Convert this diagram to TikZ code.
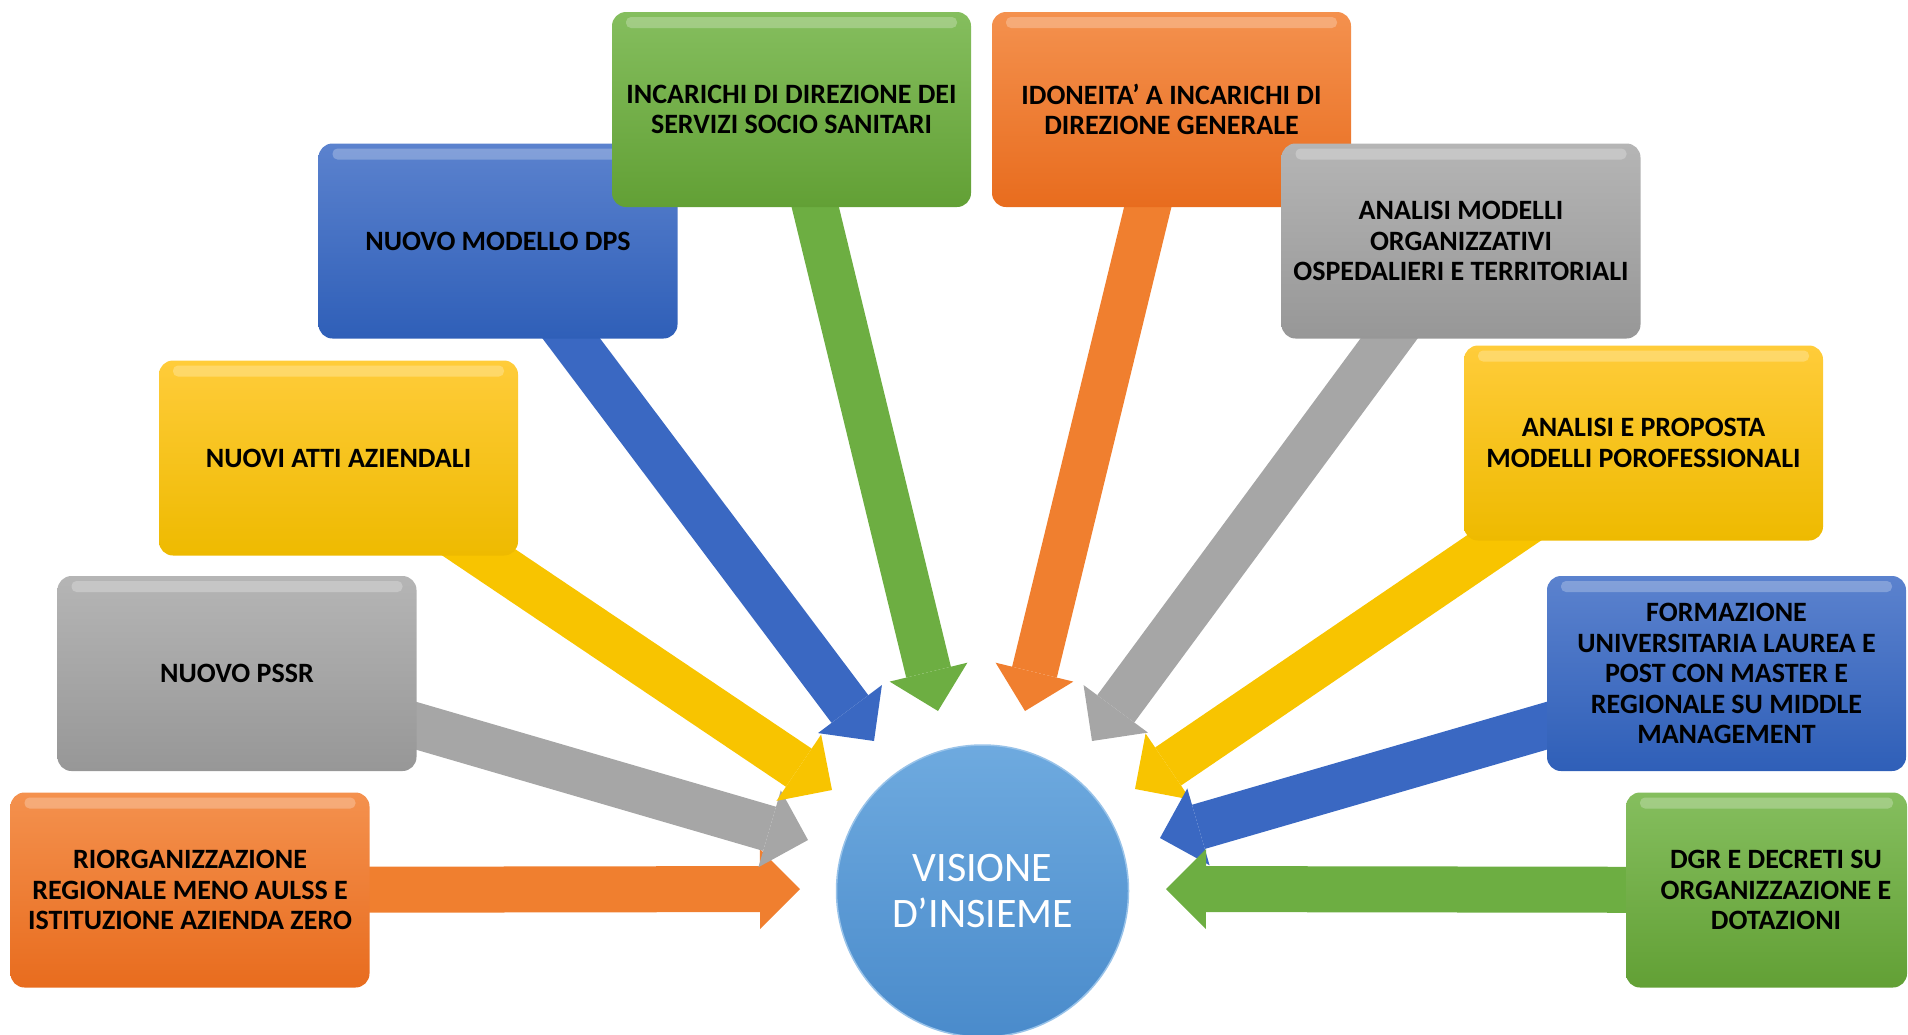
\documentclass[tikz,border=0pt]{standalone}
\usepackage{fontspec}
\setmainfont{Carlito}
\usetikzlibrary{arrows.meta,backgrounds}
\definecolor{gTop}{HTML}{85BE5E}\definecolor{gBot}{HTML}{62A035}\definecolor{gArr}{HTML}{6DAE42}
\definecolor{oTop}{HTML}{F4914E}\definecolor{oBot}{HTML}{E86C1E}\definecolor{oArr}{HTML}{F07F2F}
\definecolor{bTop}{HTML}{5B82CE}\definecolor{bBot}{HTML}{2F5FB8}\definecolor{bArr}{HTML}{3A68C2}
\definecolor{kTop}{HTML}{B5B5B5}\definecolor{kBot}{HTML}{979797}\definecolor{kArr}{HTML}{A6A6A6}
\definecolor{yTop}{HTML}{FFCC3A}\definecolor{yBot}{HTML}{EEBA00}\definecolor{yArr}{HTML}{F8C400}
\definecolor{cTop}{HTML}{6EAADF}\definecolor{cBot}{HTML}{4A8BCB}
\begin{document}
\begin{tikzpicture}[x=1pt,y=-1pt,
  boxtext/.style={inner sep=0pt, align=center, text=black,
    font=\bfseries\fontsize{28}{30.5}\selectfont},
  box/.style={boxtext, rounded corners=14pt, minimum width=359pt, minimum height=195pt,
    path picture={\fill[white,opacity=0.25,rounded corners=5pt]
      ([xshift=14pt,yshift=-5pt]path picture bounding box.north west) rectangle
      ([xshift=-14pt,yshift=-16pt]path picture bounding box.north east);}},
  gbox/.style={box, top color=gTop, bottom color=gBot},
  obox/.style={box, top color=oTop, bottom color=oBot},
  bbox/.style={box, top color=bTop, bottom color=bBot},
  kbox/.style={box, top color=kTop, bottom color=kBot},
  ybox/.style={box, top color=yTop, bottom color=yBot},
  arr/.style={line width=46pt, -{Triangle[length=40pt 0 1, width=80pt 0 1, line width=0pt 0 1]}},
]
\useasboundingbox (0,0) rectangle (1908,1034);

% boxes
\node[bbox] (dps) at (498,241) {NUOVO MODELLO DPS};
\node[gbox] (inc) at (791.5,109.5) {INCARICHI DI DIREZIONE DEI\\SERVIZI SOCIO SANITARI};
\node[obox] (ido) at (1171.5,109.5) {IDONEITA’ A INCARICHI DI\\DIREZIONE GENERALE};
\node[kbox] (ana) at (1461,241) {ANALISI MODELLI\\ORGANIZZATIVI\\OSPEDALIERI E TERRITORIALI};
\node[ybox] (atti) at (338.5,458) {NUOVI ATTI AZIENDALI};
\node[ybox] (prop) at (1643.5,443) {ANALISI E PROPOSTA\\MODELLI POROFESSIONALI};
\node[kbox] (pssr) at (237,673.5) {NUOVO PSSR};
\node[bbox] (form) at (1726.5,673.5) {FORMAZIONE\\UNIVERSITARIA LAUREA E\\POST CON MASTER E\\REGIONALE SU MIDDLE\\MANAGEMENT};
\node[obox] (rio) at (190,890) {RIORGANIZZAZIONE\\REGIONALE MENO AULSS E\\ISTITUZIONE AZIENDA ZERO};
\node[gbox, minimum width=281pt] (dgr) at (1766.5,890) {};
\node[boxtext] (dgrtext) at (1776,890) {DGR E DECRETI SU\\ORGANIZZAZIONE E\\DOTAZIONI};

% centre
\node[circle, minimum size=292pt, inner sep=0pt, top color=cTop, bottom color=cBot,
  draw=cTop!70!white, line width=1.5pt, align=center, text=white,
  font=\fontsize{42}{47}\selectfont] (vis) at (982.5,891) {VISIONE\\D’INSIEME};

% arrow tips
\coordinate (trio) at (800,889);
\coordinate (tpssr) at (808,840);
\coordinate (tatti) at (832,790);
\coordinate (tdps) at (874,741);
\coordinate (tinc) at (938,711);
\coordinate (tido) at (1025,711);
\coordinate (tana) at (1092,741);
\coordinate (tprop) at (1135,789);
\coordinate (tform) at (1160,838);
\coordinate (tdgr) at (1166,889);

\begin{scope}[on background layer]
\draw[arr, oArr] (rio.center) -- (trio);
\draw[arr, kArr] (pssr.center) -- (tpssr);
\draw[arr, yArr] (atti.center) -- (tatti);
\draw[arr, bArr] (dps.center) -- (tdps);
\draw[arr, gArr] (inc.center) -- (tinc);
\draw[arr, oArr] (ido.center) -- (tido);
\draw[arr, kArr] (ana.center) -- (tana);
\draw[arr, yArr] (prop.center) -- (tprop);
\draw[arr, bArr] (form.center) -- (tform);
\draw[arr, gArr] (dgr.center) -- (tdgr);
\end{scope}
\end{tikzpicture}
\end{document}
